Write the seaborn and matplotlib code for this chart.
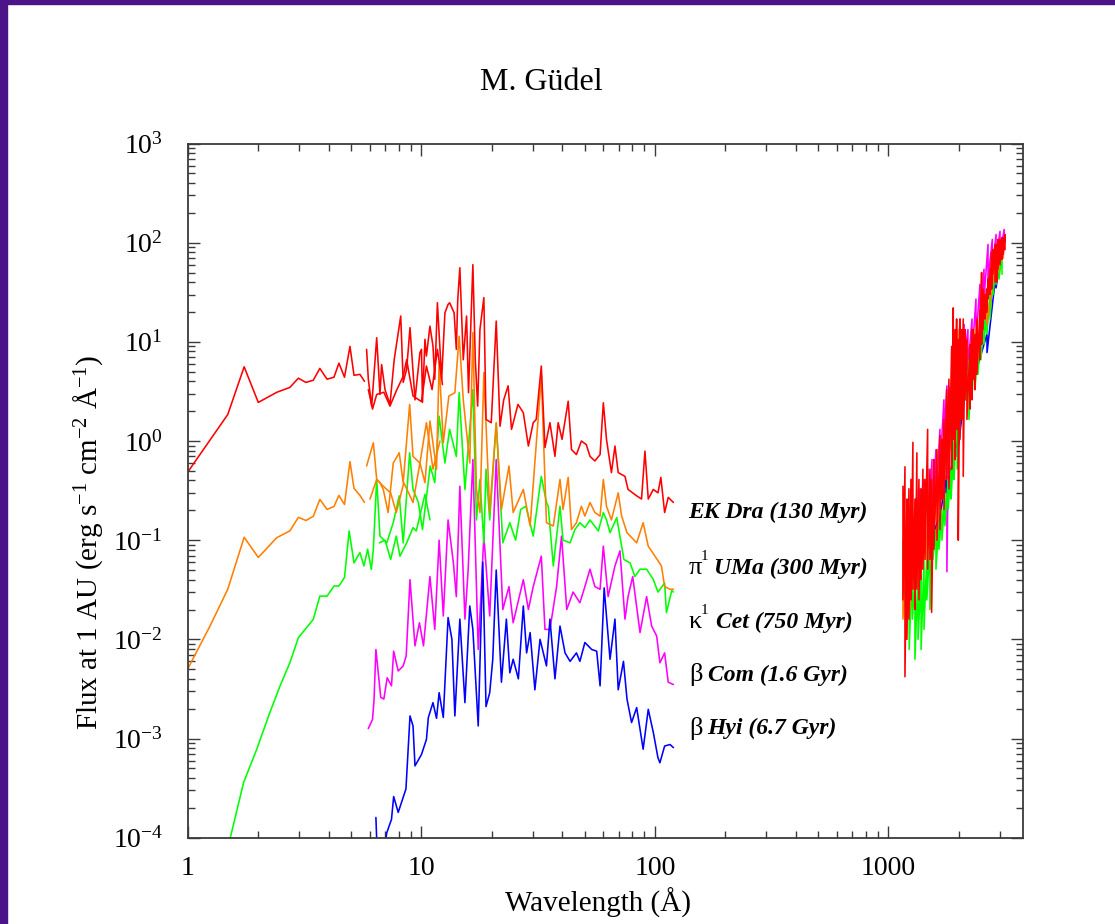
import matplotlib
matplotlib.use("Agg")
import numpy as np
import pandas as pd
import matplotlib.pyplot as plt
import seaborn as sns
from matplotlib.patches import Rectangle
from matplotlib.ticker import FixedLocator, FixedFormatter, LogLocator, NullFormatter

# ---------------- data ----------------
star_names = ["EK Dra (130 Myr)", "UMa (300 Myr)", "Cet (750 Myr)", "Com (1.6 Gyr)", "Hyi (6.7 Gyr)"]
star_greek = ["", "\u03c0", "\u03ba", "\u03b2", "\u03b2"]
star_sup = ["", "1", "1", "", ""]
star_colors = ["#ff0000", "#ff8000", "#00ff00", "#ff00ff", "#0000ff"]

# coronal models (short wavelengths)
ek_model_wl = [1.0, 1.48, 1.74, 2.0, 2.40, 2.73, 2.97, 3.2, 3.44, 3.67, 3.94, 4.22, 4.43, 4.68, 4.94, 5.14, 5.45, 5.7]
ek_model_fx = [0.49, 1.85, 5.6, 2.45, 3.1, 3.47, 4.3, 3.9, 4.1, 5.4, 4.2, 4.4, 6.1, 4.4, 9.0, 4.6, 4.7, 4.0]

pi_model_wl = [1.0, 1.24, 1.48, 1.74, 2.0, 2.40, 2.73, 2.97, 3.2, 3.44, 3.67, 3.94, 4.22, 4.43, 4.68, 4.94, 5.14, 5.45, 5.7]
pi_model_fx = [0.0051, 0.0135, 0.032, 0.107, 0.067, 0.106, 0.124, 0.17, 0.158, 0.174, 0.258, 0.204, 0.219, 0.283, 0.229, 0.62, 0.333, 0.283, 0.24]

ka_model_wl = [1.41, 1.53, 1.73, 1.97, 2.24, 2.48, 2.73, 2.97, 3.44, 3.67, 3.94, 4.22, 4.43, 4.68, 4.90, 5.14, 5.45, 5.67, 5.88, 6.1]
ka_model_fx = [5.2e-5, 1.08e-4, 3.6e-4, 7.8e-4, 1.82e-3, 3.4e-3, 5.8e-3, 0.0104, 0.0159, 0.0273, 0.0273, 0.0345, 0.0345, 0.042, 0.124, 0.059, 0.075, 0.055, 0.081, 0.051]

# X-ray / EUV spectra
ek_x_wl = [5.82, 5.92, 6.12, 6.43, 6.64, 6.75, 6.98, 7.33, 7.64, 8.15, 8.35, 8.64, 8.93, 9.38, 9.85, 10.0, 10.1,
           10.35, 10.5, 10.87, 11.2, 11.4, 11.7, 12.2, 12.6, 13.0, 13.2, 13.8, 14.1, 14.3, 14.6, 15.1, 15.6, 15.9,
           16.6, 17.0, 17.4, 17.8, 18.5, 18.9, 19.9, 20.9, 21.7, 22.5, 23.5, 24.3, 25.9, 27.3, 28.7, 30.1, 31.0,
           32.6, 33.8, 35.5, 37.3, 38.5, 40.0, 42.5, 43.9, 46.1, 48.4, 50.8, 52.7, 55.3, 58.2, 60.1, 62.0, 65.1,
           67.4, 69.6, 74.4, 76.7, 83.5, 87.6, 90.6, 93.6, 98.4, 103, 106, 110, 114, 120]
ek_x_fx = [8.4, 4.2, 2.25, 11.0, 2.95, 5.9, 3.3, 2.34, 6.6, 18.2, 3.9, 5.3, 13.9, 2.6, 7.8, 8.4, 2.45,
           10.6, 7.2, 14.4, 9.1, 4.2, 24.8, 4.2, 19.6, 23.8, 24.8, 19.6, 8.4, 26.7, 55.8, 6.6, 18.2, 3.07,
           60.0, 6.6, 2.25, 13.3, 27.9, 1.65, 1.53, 16.2, 1.41, 2.6, 3.6, 1.31, 2.34, 1.93, 0.89, 1.53, 1.65,
           5.7, 0.86, 1.53, 0.70, 1.53, 1.04, 2.52, 0.82, 0.73, 1.0, 0.92, 0.70, 0.63, 0.73, 2.43, 1.04, 0.48,
           0.89, 0.48, 0.44, 0.325, 0.28, 0.26, 0.79, 0.26, 0.325, 0.30, 0.43, 0.19, 0.27, 0.24]
ek_x2_wl = [5.92, 6.17, 6.43, 6.9, 7.33, 7.8, 8.35, 8.64, 9.2, 10.0, 10.5, 11.1, 11.7, 12.3]
ek_x2_fx = [3.3, 2.1, 2.95, 3.1, 2.25, 3.2, 4.5, 6.6, 2.84, 2.5, 5.7, 3.3, 8.4, 3.7]

pi_x_wl = [5.82, 6.22, 6.43, 6.64, 6.86, 7.2, 7.57, 8.03, 8.35, 8.9, 9.2, 9.85, 10.35, 10.87, 11.6, 11.9, 12.4,
           13.1, 13.9, 14.5, 15.1, 16.1, 16.6, 17.2, 17.8, 18.5, 19.6, 20.9, 22.0, 23.7, 24.7, 27.3, 29.2, 32.6,
           34.3, 36.7, 39.2, 40.4, 42.5, 43.9, 46.1, 48.4, 50.1, 52.7, 55.3, 58.2, 60.1, 62.0, 65.1, 69.6, 72.0,
           75.9, 83.5, 89.0, 93.6, 100, 106.6, 110, 116, 120]
pi_x_fx = [0.56, 0.96, 0.41, 0.38, 0.325, 0.19, 0.60, 0.76, 0.38, 2.34, 0.70, 0.60, 0.38, 1.59, 0.52, 6.2, 0.96,
           2.84, 3.07, 11.4, 2.6, 0.60, 12.4, 0.325, 0.19, 4.9, 0.19, 1.53, 0.204, 0.56, 0.19, 0.325, 0.139, 4.5,
           0.15, 0.139, 0.41, 0.204, 0.43, 0.128, 0.15, 0.22, 0.175, 0.24, 0.19, 0.175, 0.41, 0.22, 0.16, 0.30, 0.175,
           0.119, 0.094, 0.15, 0.087, 0.069, 0.055, 0.034, 0.032, 0.032]
pi_x2_wl = [6.02, 6.43, 6.86, 7.38, 7.8, 8.4, 9.2, 9.85, 10.5, 11.2, 12.0]
pi_x2_fx = [0.26, 0.41, 0.35, 0.30, 0.19, 0.38, 0.24, 0.60, 1.53, 0.52, 1.0]

ka_x_wl = [6.1, 6.22, 6.43, 6.64, 7.1, 7.57, 8.03, 8.35, 8.9, 9.2, 9.7, 10.1, 10.9, 11.4, 11.9, 12.6, 13.2, 14.1,
           14.5, 15.35, 16.6, 17.2, 17.8, 18.5, 18.9, 19.6, 20.9, 22.3, 23.9, 25.3, 26.6, 28.0, 30.1, 32.6, 34.3,
           34.9, 36.7, 39.2, 40.4, 43.3, 45.4, 47.7, 50.1, 52.7, 57.2, 60.1, 62.0, 64.2, 68.6, 73.6, 78.2, 82.1,
           86.3, 92.1, 98.4, 103, 110, 112, 118, 120]
ka_x_fx = [0.051, 0.081, 0.41, 0.11, 0.094, 0.15, 0.28, 0.094, 0.76, 0.325, 0.24, 0.128, 0.56, 0.38, 1.78, 0.60, 1.31, 0.70,
           3.07, 0.325, 3.3, 0.16, 0.41, 0.094, 0.52, 0.16, 1.5, 0.094, 0.15, 0.10, 0.204, 0.22, 0.11, 0.44, 0.24,
           0.22, 0.055, 0.22, 0.10, 0.094, 0.128, 0.15, 0.134, 0.16, 0.124, 0.19, 0.16, 0.119, 0.169, 0.064, 0.059, 0.043,
           0.051, 0.051, 0.040, 0.030, 0.037, 0.0186, 0.031, 0.030]
ka_x2_wl = [6.6, 6.98, 7.38, 7.8, 8.09, 8.64, 9.2, 9.5, 10.35, 10.87]
ka_x2_fx = [0.094, 0.10, 0.064, 0.11, 0.069, 0.094, 0.134, 0.124, 0.29, 0.16]

bc_x_wl = [5.92, 6.17, 6.26, 6.38, 6.53, 6.69, 6.9, 7.13, 7.44, 7.6, 7.95, 8.35, 8.6, 8.93, 9.38, 9.8, 10.2, 10.87,
           11.4, 11.9, 12.4, 13.0, 13.7, 14.1, 14.6, 15.35, 15.85, 16.6, 17.5, 18.5, 19.6, 20.9, 22.3, 23.7, 24.7,
           27.3, 28.7, 30.1, 32.6, 33.8, 35.5, 37.9, 39.8, 41.9, 44.6, 47.7, 50.1, 52.7, 55.3, 58.2, 60.1, 63.0,
           67.4, 70.8, 74.4, 76.7, 80.3, 86.3, 92.1, 96.8, 101.7, 105, 110, 114, 120]
bc_x_fx = [0.00126, 0.00156, 0.0024, 0.0079, 0.0046, 0.0026, 0.0025, 0.0041, 0.0034, 0.0076, 0.0048, 0.0054, 0.0068, 0.040,
           0.0086, 0.0147, 0.0086, 0.043, 0.0126, 0.10, 0.0172, 0.16, 0.059, 0.027, 0.35, 0.016, 0.051, 0.65, 0.0079,
           0.11, 0.0172, 0.65, 0.020, 0.034, 0.0147, 0.040, 0.020, 0.034, 0.069, 0.0126, 0.0126, 0.034, 0.11, 0.020,
           0.030, 0.0234, 0.034, 0.051, 0.034, 0.032, 0.087, 0.027, 0.055, 0.078, 0.016, 0.027, 0.043, 0.0117, 0.027,
           0.0136, 0.0108, 0.0058, 0.0073, 0.0037, 0.0035]

bh_x_wl = [6.38, 6.46, 6.84, 7.1, 7.44, 7.6, 7.95, 8.58, 8.93, 9.2, 9.38, 10.0, 10.5, 10.7, 11.2, 11.6, 11.9, 12.4,
           13.0, 13.5, 13.9, 14.6, 15.35, 16.1, 16.6, 17.5, 18.3, 18.9, 19.6, 20.2, 20.9, 22.0, 23.1, 23.9, 24.7,
           26.0, 27.3, 28.2, 29.2, 30.6, 32.2, 34.3, 35.5, 37.3, 39.2, 41.2, 43.3, 46.1, 47.7, 50.1, 53.6, 56.3,
           58.2, 60.6, 64.2, 67.4, 69.6, 73.3, 75.9, 79.4, 83.5, 89.0, 93.6, 98.4, 103, 105, 110, 116, 120]
bh_x_fx = [1.6e-4, 7e-5, 6e-5, 1.12e-4, 1.53e-4, 2.6e-4, 1.8e-4, 3.1e-4, 1.69e-3, 1.34e-3, 5.3e-4, 6.9e-4, 9.8e-4, 1.63e-3,
           2.3e-3, 1.6e-3, 2.9e-3, 1.63e-3, 0.0166, 0.010, 1.69e-3, 0.016, 2.3e-3, 0.0217, 0.0126, 1.34e-3, 0.06, 2.1e-3,
           2.9e-3, 6.3e-3, 0.05, 3.7e-3, 0.016, 4.6e-3, 6.3e-3, 4.0e-3, 0.0217, 7.3e-3, 0.0117, 3.1e-3, 0.010, 5.4e-3,
           0.016, 4.0e-3, 0.0136, 7.3e-3, 6.0e-3, 7.3e-3, 6.0e-3, 9.3e-3, 7.9e-3, 7.6e-3, 3.4e-3, 0.033, 6.3e-3, 0.016,
           3.1e-3, 6.0e-3, 2.5e-3, 1.45e-3, 2.05e-3, 7.8e-4, 1.97e-3, 1.15e-3, 6.4e-4, 5.7e-4, 8.4e-4, 8.7e-4, 8.1e-4]

# UV spectra (dense, high / low pairs)
ek_uv_wl = [1154, 1154, 1177, 1177, 1200, 1200, 1224, 1224, 1249, 1249, 1273, 1273, 1299, 1299, 1324, 1324, 1351, 1351,
            1378, 1378, 1405, 1405, 1433, 1433, 1472, 1472, 1506, 1506, 1531, 1531, 1566, 1566, 1614, 1614, 1662, 1662,
            1695, 1695, 1729, 1729, 1776, 1776, 1816, 1816, 1865, 1865, 1895, 1895, 1927, 1927, 1959, 1959, 1991, 1991,
            2025, 2025, 2058, 2058, 2091, 2091, 2127, 2127, 2169, 2169, 2235, 2235, 2278, 2278, 2308, 2308, 2348, 2348,
            2393, 2393, 2466, 2466, 2506, 2506, 2539, 2539, 2591, 2591, 2633, 2633, 2668, 2668, 2722, 2722, 2767, 2767,
            2803, 2803, 2860, 2860, 2906, 2906, 2944, 2944, 3005, 3005, 3062, 3062, 3102, 3102, 3157, 3157]
ek_uv_fx = [0.35, 0.025, 0.55, 0.0042, 0.26, 0.010, 0.33, 0.016, 0.41, 0.025, 0.97, 0.032, 0.26, 0.020, 0.76, 0.032, 0.41, 0.025,
            0.33, 0.040, 0.52, 0.051, 0.41, 0.064, 1.31, 0.051, 0.52, 0.064, 0.41, 0.0187, 0.65, 0.081, 0.82, 0.10, 1.14, 0.128,
            1.04, 0.26, 1.65, 0.204, 3.3, 0.41, 4.2, 0.33, 9.0, 0.52, 22.0, 1.04, 13.3, 0.65, 17.0, 1.31, 10.6, 0.10,
            17.0, 1.04, 13.3, 1.65, 17.0, 0.44, 13.3, 2.6, 10.6, 1.65, 9.4, 2.1, 13.3, 2.6, 13.3, 4.2, 11.9, 3.3,
            17.0, 4.7, 21.0, 6.6, 50.0, 9.4, 34.0, 13.3, 30.0, 17.0, 34.0, 19.8, 43.0, 27.0, 54.0, 30.0, 80.0, 34.0,
            85.0, 48.0, 96.0, 40.0, 96.0, 40.0, 108.0, 54.0, 108.0, 60.0, 113.0, 68.0, 108.0, 76.0, 121.0, 85.0]

pi_uv_wl = [1154, 1154, 1190, 1190, 1236, 1236, 1286, 1286, 1339, 1339, 1392, 1392, 1446, 1446, 1506, 1506, 1566, 1566,
            1630, 1630, 1695, 1695, 1764, 1764, 1834, 1834, 1910, 1910, 1986, 1986, 2150, 2150, 2371, 2371, 2644, 2644,
            2890, 2890, 3106, 3106]
pi_uv_fx = [0.064, 0.016, 0.10, 0.025, 0.081, 0.020, 0.128, 0.032, 0.10, 0.040, 0.16, 0.051, 0.204, 0.064, 0.26, 0.09, 0.33, 0.128,
            0.41, 0.16, 0.65, 0.26, 1.31, 0.41, 2.6, 0.82, 8.4, 1.65, 13.3, 2.6, 9.0, 3.0, 14.0, 6.0, 30.0, 15.0,
            70.0, 40.0, 100.0, 70.0]

ka_uv_wl = [1154, 1154, 1190, 1190, 1227, 1227, 1266, 1266, 1299, 1299, 1339, 1339, 1380, 1380, 1420, 1420, 1460, 1460,
            1506, 1506, 1550, 1550, 1598, 1598, 1646, 1646, 1695, 1695, 1746, 1746, 1800, 1800, 1855, 1855, 1910, 1910,
            1970, 1970, 2025, 2025, 2093, 2093, 2150, 2150, 2212, 2212, 2280, 2280, 2348, 2348, 2418, 2418, 2490, 2490,
            2566, 2566, 2644, 2644, 2722, 2722, 2805, 2805, 2890, 2890, 2975, 2975, 3065, 3065]
ka_uv_fx = [0.10, 0.032, 0.064, 0.010, 0.051, 0.0079, 0.064, 0.016, 0.040, 0.0063, 0.051, 0.010, 0.045, 0.0079, 0.064, 0.0126,
            0.07, 0.025, 0.09, 0.020, 0.128, 0.064, 0.128, 0.051, 0.16, 0.081, 0.204, 0.10, 0.29, 0.14, 0.41, 0.204,
            0.52, 0.26, 1.04, 0.41, 2.6, 0.52, 5.3, 1.65, 6.6, 2.1, 5.3, 2.6, 6.6, 1.65, 7.4, 2.95, 8.4, 3.3,
            9.4, 4.7, 13.3, 6.6, 19.0, 9.4, 24.0, 11.9, 34.0, 17.0, 48.0, 30.0, 60.0, 38.0, 68.0, 43.0, 76.0, 48.0]

bc_uv_wl = [1166, 1166, 1215, 1215, 1266, 1266, 1312, 1312, 1365, 1365, 1420, 1420, 1476, 1476, 1537, 1537, 1598, 1598,
            1662, 1662, 1729, 1729, 1780, 1780, 1820, 1820, 1876, 1876, 1950, 1950, 2025, 2025, 2110, 2110, 2190, 2190,
            2280, 2280, 2371, 2371, 2466, 2466, 2566, 2566, 2670, 2670, 2786, 2786, 2890, 2890, 3005, 3005, 3130, 3130]
bc_uv_fx = [0.16, 0.064, 0.26, 0.040, 0.33, 0.051, 0.26, 0.064, 0.33, 0.081, 0.41, 0.10, 0.52, 0.128, 0.65, 0.16, 0.82, 0.26,
            1.31, 0.52, 2.6, 1.04, 3.6, 0.048, 3.5, 1.31, 4.2, 1.65, 13.3, 2.6, 17.0, 4.2, 15.0, 6.6, 13.3, 5.3,
            17.0, 7.4, 27.0, 10.6, 38.0, 17.0, 54.0, 27.0, 96.0, 43.0, 108.0, 54.0, 121.0, 68.0, 130.0, 76.0, 136.0, 85.0]

bh_uv_wl = [1154, 1154, 1236, 1236, 1365, 1365, 1506, 1506, 1630, 1630, 1764, 1764, 1970, 1970, 2150, 2150, 2371, 2371,
            2644, 2644, 2890, 2890, 3106, 3106]
bh_uv_fx = [0.035, 0.027, 0.05, 0.035, 0.08, 0.055, 0.12, 0.09, 0.16, 0.12, 0.45, 0.30, 1.04, 0.70, 4.0, 2.6, 7.0, 5.0,
            12.0, 7.8, 50.0, 35.0, 110.0, 90.0]

x_ticks = [1, 10, 100, 1000]
x_tick_labels = ["1", "10", "100", "1000"]
y_exponents = [-4, -3, -2, -1, 0, 1, 2, 3]

# ---------------- style ----------------
sns.set_theme(style="ticks")
plt.rcParams.update({
    "font.family": ["Liberation Serif", "DejaVu Serif"],
    "mathtext.fontset": "custom",
    "mathtext.rm": "Liberation Serif",
    "mathtext.it": "Liberation Serif:italic",
    "mathtext.bf": "Liberation Serif:bold",
    "axes.facecolor": "white",
    "figure.facecolor": "white",
    "text.color": "black",
    "axes.labelcolor": "black",
})

W, H = 1115, 924
fig = plt.figure(figsize=(W / 100, H / 100), dpi=100)
ax_l, ax_r, ax_t, ax_b = 188, 1023, 143.5, 837.7
ax = fig.add_axes([ax_l / W, 1 - ax_b / H, (ax_r - ax_l) / W, (ax_b - ax_t) / H])
ax.set_xscale("log")
ax.set_yscale("log")

purple = "#4b1488"
fig.patches.append(Rectangle((0, 0), 7 / W, 1, transform=fig.transFigure, color=purple, zorder=0))
fig.patches.append(Rectangle((0, 1 - 4 / H), 1, 4 / H, transform=fig.transFigure, color=purple, zorder=0))


def draw(wl, fx, color):
    df = pd.DataFrame({"wl": wl, "flux": fx})
    sns.lineplot(data=df, x="wl", y="flux", ax=ax, color=color, linewidth=1.15,
                 estimator=None, sort=False, legend=False)


red, orange, green, magenta, blue = star_colors
# order: magenta, blue, green, orange, red (red on top)
draw(bc_x_wl, bc_x_fx, magenta)
draw(bc_uv_wl, bc_uv_fx, magenta)
draw(bh_x_wl, bh_x_fx, blue)
draw(bh_uv_wl, bh_uv_fx, blue)
draw(ka_model_wl, ka_model_fx, green)
draw(ka_x_wl, ka_x_fx, green)
draw(ka_x2_wl, ka_x2_fx, green)
draw(ka_uv_wl, ka_uv_fx, green)
draw(pi_model_wl, pi_model_fx, orange)
draw(pi_x_wl, pi_x_fx, orange)
draw(pi_x2_wl, pi_x2_fx, orange)
draw(pi_uv_wl, pi_uv_fx, orange)
draw(ek_model_wl, ek_model_fx, red)
draw(ek_x_wl, ek_x_fx, red)
draw(ek_x2_wl, ek_x2_fx, red)
draw(ek_uv_wl, ek_uv_fx, red)

ax.set_xlim(1, 3770)
ax.set_ylim(1e-4, 1e3)
ax.set_xlabel("")
ax.set_ylabel("")

ax.xaxis.set_major_locator(FixedLocator(x_ticks))
ax.xaxis.set_major_formatter(FixedFormatter(x_tick_labels))
ax.xaxis.set_minor_locator(LogLocator(base=10, subs=np.arange(2, 10), numticks=20))
ax.xaxis.set_minor_formatter(NullFormatter())
ax.yaxis.set_major_locator(FixedLocator([10.0 ** e for e in y_exponents]))
ax.yaxis.set_major_formatter(FixedFormatter([r"$10^{%d}$" % e for e in y_exponents]))
ax.yaxis.set_minor_locator(LogLocator(base=10, subs=np.arange(2, 10), numticks=20))
ax.yaxis.set_minor_formatter(NullFormatter())

for s in ax.spines.values():
    s.set_color("#3a3a3a")
    s.set_linewidth(1.3)
ax.tick_params(which="both", direction="in", top=True, right=True, color="#3a3a3a", width=1.0)
ax.tick_params(which="major", length=8.5)
ax.tick_params(which="minor", length=4.7)
ax.tick_params(axis="x", which="major", labelsize=20, pad=13, labelcolor="black")
ax.tick_params(axis="y", which="major", labelsize=20, pad=18, labelcolor="black")

# titles and axis labels
fig.text(541.5 / W, 1 - 82 / H, "M. Güdel", ha="center", va="center", fontsize=23)
fig.text(598 / W, 1 - 903 / H, "Wavelength (Å)", ha="center", va="center", fontsize=21)
fig.text(88 / W, 1 - 542 / H, r"Flux at 1 AU (erg s$^{-1}$ cm$^{-2}$ Å$^{-1}$)",
         ha="center", va="center", rotation=90, fontsize=21)

# star labels
label_y = [512, 568, 622, 675, 728]
name_x = [688, 714, 716, 708, 707]
for name, greek, sup, yy, nx in zip(star_names, star_greek, star_sup, label_y, name_x):
    if greek:
        fig.text(689 / W, 1 - yy / H, greek, ha="left", va="center", fontsize=19)
    if sup:
        fig.text(701 / W, 1 - (yy - 11) / H, sup, ha="left", va="center", fontsize=11)
    fig.text(nx / W, 1 - yy / H, name, ha="left", va="center", fontsize=17,
             fontweight="bold", fontstyle="italic")

fig.savefig("out.png", dpi=100)
